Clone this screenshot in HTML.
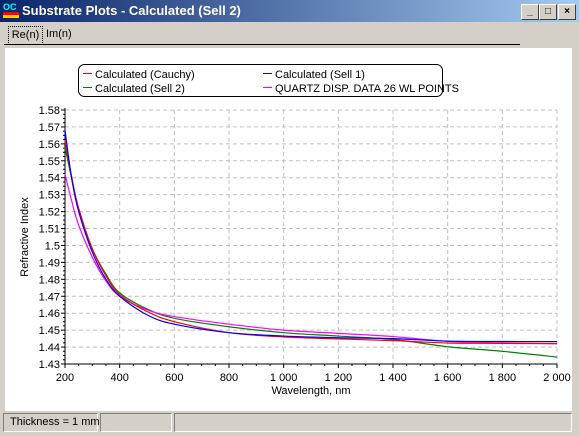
<!DOCTYPE html>
<html><head><meta charset="utf-8"><style>
body{margin:0;width:579px;height:436px;overflow:hidden;background:#d4d0c8;font-family:"Liberation Sans",sans-serif;position:relative}
.abs{position:absolute}
#title{left:0;top:0;width:579px;height:22px;background:linear-gradient(90deg,#0a246a,#a6caf0);color:#fff;font-weight:bold;font-size:13px;line-height:22px}
.btn{top:4px;width:16px;height:14px;background:#d4d0c8;border:1px solid;border-color:#fff #404040 #404040 #fff;font-size:10px;line-height:14px;text-align:center;color:#000;font-weight:bold}
.tab{font-size:11px;line-height:16px;top:26px;height:17px}
.sp{top:413px;height:17px;border:1px solid;border-color:#808080 #fff #fff #808080;font-size:11px;line-height:17px;white-space:nowrap;box-sizing:border-box;height:19px}
</style></head><body>
<div id="title" class="abs">
 <span class="abs" style="left:3px;top:2px;width:16px;height:16px;font-size:9px;color:#0ff;line-height:10px">OC<div style="height:3px;background:#f00"></div><div style="height:3px;background:#fc0"></div></span>
 <span class="abs" style="left:22px;top:0">Substrate Plots - Calculated (Sell 2)</span>
</div>
<div class="abs btn" style="left:521px">_</div>
<div class="abs btn" style="left:539px">□</div>
<div class="abs btn" style="left:558px">×</div>
<div class="abs tab" style="left:8px;width:33px;border:1px dotted #000;text-align:center;top:26px">Re(n)</div>
<div class="abs tab" style="left:46px">Im(n)</div>
<div class="abs" style="left:4px;top:44px;width:516px;height:1px;background:#000"></div>
<div class="abs" style="left:5px;top:48px;width:567px;height:363px;background:#fff"></div>
<svg class="abs" style="left:0;top:0" width="579" height="436" id="chart"></svg>
<div class="abs sp" style="left:3px;width:95px;padding-left:6px">Thickness = 1 mm</div>
<div class="abs sp" style="left:100px;width:72px"></div>
<div class="abs sp" style="left:174px;width:398px"></div>
<script>
const wavelengths=[200,225,250,300,350,400,500,600,800,1000,1200,1400,1600,1800,2000];
const cauchy=[1.562,1.540,1.522,1.498,1.482,1.471,1.461,1.455,1.4485,1.4460,1.4448,1.4438,1.4424,1.4422,1.442];
const sell1=[1.568,1.539,1.520,1.496,1.480,1.470,1.459,1.4535,1.4485,1.4465,1.4455,1.445,1.4435,1.4433,1.4432];
const sell2=[1.558,1.539,1.521,1.498,1.483,1.472,1.4625,1.457,1.452,1.4485,1.4465,1.4445,1.4402,1.4375,1.4341];
const quartz=[1.542,1.526,1.512,1.493,1.479,1.470,1.462,1.458,1.4535,1.450,1.4481,1.4462,1.4434,1.4425,1.442];
const xTicks=[200,400,600,800,1000,1200,1400,1600,1800,2000];
const xTickLabels=["200","400","600","800","1 000","1 200","1 400","1 600","1 800","2 000"];
const yTicks=[1.43,1.44,1.45,1.46,1.47,1.48,1.49,1.5,1.51,1.52,1.53,1.54,1.55,1.56,1.57,1.58];
const NS="http://www.w3.org/2000/svg";
const svg=document.getElementById('chart');
const X0=65,X1=557,Y0=364,Y1=110;
const xs=v=>X0+(v-200)/1800*(X1-X0);
const ys=v=>Y0-(v-1.43)/0.15*(Y0-Y1);
function mk(t,a,txt){const e=document.createElementNS(NS,t);for(const k in a)e.setAttribute(k,a[k]);if(txt!==undefined)e.textContent=txt;svg.appendChild(e);return e;}
xTicks.forEach((v,i)=>{
 if(i>0){const g=mk('line',{x1:xs(v),x2:xs(v),y1:Y1,y2:Y0,stroke:'#c0c0c0','stroke-dasharray':'4,3'});
 
 }
 mk('line',{x1:xs(v),x2:xs(v),y1:Y0,y2:Y0+4,stroke:'#000'});
 if(i<xTicks.length-1)for(let k=1;k<4;k++){const m=v+k*50;mk('line',{x1:xs(m),x2:xs(m),y1:Y0,y2:Y0+2,stroke:'#000'});}
 const t=mk('text',{x:xs(v),y:Y0+17,'font-size':11,'text-anchor':'middle','font-family':'Liberation Sans'},xTickLabels[i]);
 
 
});
yTicks.forEach((v,i)=>{
 if(i>0){const g=mk('line',{x1:X0,x2:X1,y1:ys(v),y2:ys(v),stroke:'#c0c0c0','stroke-dasharray':'4,3'});
 
 }
 mk('line',{x1:X0-4,x2:X0,y1:ys(v),y2:ys(v),stroke:'#000'});
 if(i<yTicks.length-1)for(let k=1;k<4;k++){mk('line',{x1:X0-2,x2:X0,y1:ys(v+k*0.0025),y2:ys(v+k*0.0025),stroke:'#000'});}
 const t=mk('text',{x:X0-5,y:ys(v)+4,'font-size':11,'text-anchor':'end','font-family':'Liberation Sans'},String(v));
 
 
});
mk('line',{x1:X0,x2:X0,y1:Y1-2,y2:Y0,stroke:'#000'});
mk('line',{x1:X0,x2:X1,y1:Y0,y2:Y0,stroke:'#000'});
const xt=mk('text',{x:311,y:394,'font-size':11,'text-anchor':'middle','font-family':'Liberation Sans'},'Wavelength, nm');


const yt=mk('text',{x:28,y:237,'font-size':11,'text-anchor':'middle','font-family':'Liberation Sans',transform:'rotate(-90 28 237)'},'Refractive Index');


function pathFor(arr){
 const p=wavelengths.map((w,i)=>[xs(w),ys(arr[i])]);
 let d='M'+p[0][0]+','+p[0][1];
 for(let i=0;i<p.length-1;i++){
  const p0=p[Math.max(0,i-1)],p1=p[i],p2=p[i+1],p3=p[Math.min(p.length-1,i+2)];
  const c1x=p1[0]+(p2[0]-p0[0])/6,c1y=p1[1]+(p2[1]-p0[1])/6,c2x=p2[0]-(p3[0]-p1[0])/6,c2y=p2[1]-(p3[1]-p1[1])/6;
  d+=' C'+c1x+','+c1y+' '+c2x+','+c2y+' '+p2[0]+','+p2[1];
 }
 return d;
}
[[sell2,'#008000','series-sell2'],[quartz,'#ff00ff','series-quartz'],[cauchy,'#ff0000','series-cauchy'],[sell1,'#0000ff','series-sell1']].forEach(s=>{
 const e=mk('path',{d:pathFor(s[0]),fill:'none',stroke:s[1],'stroke-width':1.2});
 
 
});
const lg=mk('rect',{x:78.5,y:64.5,width:364,height:32,rx:6,fill:'#fff',stroke:'#000'});


[['Calculated (Cauchy)','#ff0000',83,78],['Calculated (Sell 1)','#0000ff',263,78],['Calculated (Sell 2)','#008000',83,92],['QUARTZ DISP. DATA 26 WL POINTS','#ff00ff',263,92]].forEach(l=>{
 const sw=mk('rect',{x:l[2],y:l[3]-5,width:9,height:1,fill:l[1]});
 
 
 const t=mk('text',{x:l[2]+12,y:l[3],'font-size':11,'font-family':'Liberation Sans'},l[0]);
 
 
});
</script>
</body></html>
